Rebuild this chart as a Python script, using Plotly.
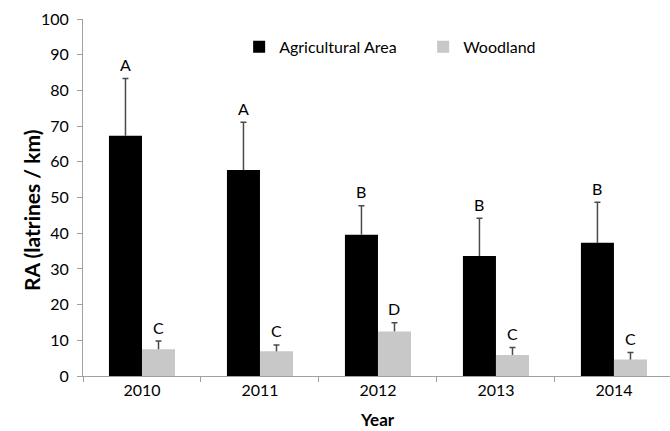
import plotly.graph_objects as go

years = ["2010", "2011", "2012", "2013", "2014"]
agri = [67.3, 57.7, 39.6, 33.6, 37.3]
agri_err = [16.0, 13.4, 8.1, 10.6, 11.4]
wood = [7.5, 6.9, 12.5, 5.9, 4.6]
wood_err = [2.3, 1.8, 2.4, 2.1, 2.0]
agri_letters = ["A", "A", "B", "B", "B"]
wood_letters = ["C", "C", "D", "C", "C"]

FONT = "Lato"
BARGAP = 0.44
half = (1 - BARGAP) / 4
ERR_COLOR = "#4a4a4a"

agri_top = [v + e for v, e in zip(agri, agri_err)]
wood_top = [v + e for v, e in zip(wood, wood_err)]

fig = go.Figure()
# main bars with whiskers (no caps)
fig.add_trace(go.Bar(
    name="Agricultural Area", x=years, y=agri, offsetgroup="a",
    marker=dict(color="#000000", line=dict(width=0)),
    error_y=dict(type="data", array=agri_err, symmetric=False, arrayminus=[0]*5,
                 color=ERR_COLOR, thickness=1.5, width=0),
))
fig.add_trace(go.Bar(
    name="Woodland", x=years, y=wood, offsetgroup="w",
    marker=dict(color="#c8c8c8", line=dict(width=0)),
    error_y=dict(type="data", array=wood_err, symmetric=False, arrayminus=[0]*5,
                 color=ERR_COLOR, thickness=1.5, width=0),
))
# invisible bars carrying only the top caps of the whiskers
for tops, grp in ((agri_top, "a"), (wood_top, "w")):
    fig.add_trace(go.Bar(
        x=years, y=tops, offsetgroup=grp, showlegend=False, hoverinfo="skip",
        marker=dict(color="rgba(0,0,0,0)", line=dict(width=0)),
        error_y=dict(type="data", array=[0]*5, color=ERR_COLOR, thickness=1.5, width=3),
    ))

annotations = []
for i in range(len(years)):
    annotations.append(dict(x=i - half, y=agri_top[i], xref="x", yref="y",
                            text=agri_letters[i], yshift=14, showarrow=False,
                            font=dict(family=FONT, size=16, color="#000000")))
    annotations.append(dict(x=i + half, y=wood_top[i], xref="x", yref="y",
                            text=wood_letters[i], yshift=14, showarrow=False,
                            font=dict(family=FONT, size=16, color="#000000")))
# axis titles
annotations.append(dict(x=31, y=211, xref="paper", yref="paper", text="<b>RA (latrines / km)</b>",
                        textangle=-90, showarrow=False, xanchor="center", yanchor="middle",
                        font=dict(family=FONT, size=21, color="#000000")))
annotations.append(dict(x=378, y=419, xref="paper", yref="paper", text="<b>Year</b>",
                        showarrow=False, xanchor="center", yanchor="middle",
                        font=dict(family=FONT, size=17, color="#000000")))

W, H = 670, 431
ML, MR, MT, MB = 83, 0, 19, 55
pw, ph = W - ML - MR, H - MT - MB
for a in annotations[-2:]:
    a["x"] = (a["x"] - ML) / pw
    a["y"] = (H - MB - a["y"]) / ph

fig.update_layout(
    width=W, height=H,
    margin=dict(l=ML, r=MR, t=MT, b=MB, autoexpand=False),
    paper_bgcolor="white", plot_bgcolor="white",
    barmode="group", bargap=BARGAP, bargroupgap=0,
    font=dict(family=FONT, size=16, color="#000"),
    showlegend=True,
    annotations=annotations,
    legend=dict(orientation="h", x=0.266, xanchor="left", y=0.922, yanchor="middle",
                font=dict(family=FONT, size=16, color="#000"),
                entrywidth=139, entrywidthmode="pixels",
                bgcolor="rgba(0,0,0,0)"),
    xaxis=dict(
        type="category", autorange=False,
        range=[-0.5, 4.475], showline=True, linecolor="#a0a0a0", linewidth=1,
        ticks="outside", tickson="boundaries", ticklen=5, tickcolor="#a0a0a0",
        showgrid=False, tickfont=dict(family=FONT, size=16),
    ),
    yaxis=dict(
        range=[0, 100], dtick=10, showline=True, linecolor="#a0a0a0", linewidth=1,
        ticks="outside", ticklen=5, tickcolor="#a0a0a0", showgrid=False,
        zeroline=False, tickfont=dict(family=FONT, size=16), ticklabelstandoff=5,
    ),
)

fig.write_html("out.html")
